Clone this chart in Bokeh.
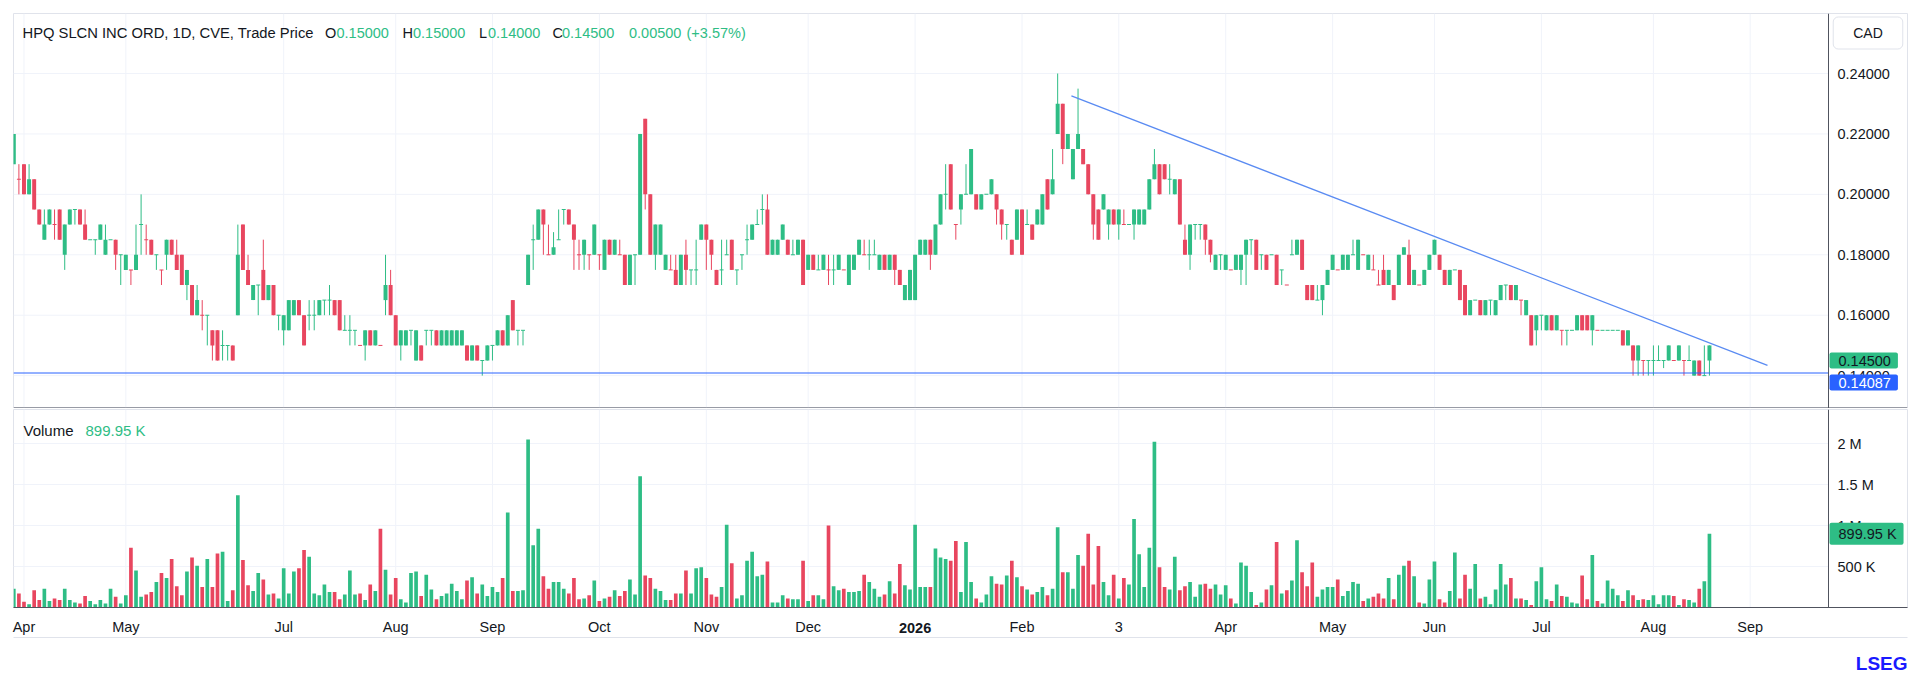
from bokeh.plotting import figure
from bokeh.models import (Range1d, FixedTicker, NumeralTickFormatter, Label, Span, ColumnDataSource,
                          LinearAxis, Title)
from bokeh.layouts import column
from bokeh.embed import file_html
from bokeh.resources import INLINE

# ---------------- data (daily bars, index 0 = first visible bar) ----------------
opens = [
    0.21, 0.205, 0.21, 0.20, 0.205, 0.195, 0.185, 0.19, 0.19, 0.195,
    0.18, 0.19, 0.195, 0.195, 0.19, 0.185, 0.185, 0.185, 0.18, 0.185,
    0.185, 0.18, 0.175, 0.175, 0.175, 0.19, 0.185, 0.185, 0.18, 0.175,
    0.18, 0.185, 0.18, 0.18, 0.17, 0.17, 0.16, 0.16, 0.16, 0.155,
    0.155, 0.15, 0.15, 0.15, 0.16, 0.19, 0.175, 0.165, 0.17, 0.175,
    0.165, 0.17, 0.16, 0.155, 0.155, 0.16, 0.165, 0.16, 0.16, 0.16,
    0.16, 0.165, 0.165, 0.165, 0.165, 0.155, 0.155, 0.155, 0.15, 0.15,
    0.155, 0.15, 0.15, 0.165, 0.17, 0.16, 0.15, 0.15, 0.155, 0.145,
    0.15, 0.155, 0.155, 0.155, 0.15, 0.15, 0.15, 0.15, 0.15, 0.15,
    0.145, 0.15, 0.145, 0.145, 0.15, 0.15, 0.155, 0.15, 0.165, 0.155,
    0.155, 0.17, 0.185, 0.185, 0.195, 0.18, 0.18, 0.185, 0.195, 0.195,
    0.19, 0.18, 0.18, 0.18, 0.18, 0.18, 0.175, 0.185, 0.18, 0.18,
    0.18, 0.17, 0.18, 0.18, 0.225, 0.20, 0.18, 0.18, 0.175, 0.175,
    0.175, 0.17, 0.18, 0.175, 0.175, 0.185, 0.19, 0.185, 0.175, 0.175,
    0.18, 0.185, 0.175, 0.18, 0.185, 0.185, 0.19, 0.195, 0.195, 0.18,
    0.18, 0.185, 0.185, 0.18, 0.18, 0.185, 0.175, 0.18, 0.175, 0.175,
    0.175, 0.175, 0.175, 0.175, 0.17, 0.175, 0.18, 0.18, 0.18, 0.18,
    0.175, 0.18, 0.175, 0.18, 0.175, 0.165, 0.165, 0.165, 0.18, 0.18,
    0.185, 0.18, 0.19, 0.20, 0.21, 0.19, 0.195, 0.20, 0.20, 0.20,
    0.195, 0.20, 0.20, 0.20, 0.195, 0.19, 0.185, 0.185, 0.195, 0.19,
    0.19, 0.19, 0.19, 0.205, 0.20, 0.22, 0.23, 0.215, 0.205, 0.215,
    0.215, 0.21, 0.20, 0.195, 0.195, 0.19, 0.195, 0.19, 0.19, 0.19,
    0.19, 0.19, 0.19, 0.195, 0.205, 0.21, 0.21, 0.205, 0.20, 0.205,
    0.185, 0.18, 0.19, 0.19, 0.19, 0.185, 0.175, 0.18, 0.175, 0.175,
    0.175, 0.175, 0.18, 0.185, 0.185, 0.18, 0.18, 0.18, 0.18, 0.175,
    0.17, 0.18, 0.18, 0.185, 0.17, 0.17, 0.165, 0.165, 0.17, 0.175,
    0.175, 0.175, 0.175, 0.18, 0.175, 0.18, 0.175, 0.175, 0.17, 0.175,
    0.17, 0.17, 0.17, 0.18, 0.18, 0.17, 0.17, 0.17, 0.175, 0.18,
    0.18, 0.175, 0.17, 0.175, 0.175, 0.17, 0.16, 0.165, 0.165, 0.16,
    0.165, 0.16, 0.165, 0.17, 0.17, 0.165, 0.165, 0.16, 0.16, 0.155,
    0.16, 0.155, 0.16, 0.155, 0.155, 0.155, 0.155, 0.155, 0.16, 0.16,
    0.155, 0.155, 0.155, 0.155, 0.155, 0.155, 0.155, 0.15, 0.15, 0.145,
    0.145, 0.145, 0.145, 0.145, 0.145, 0.145, 0.145, 0.145, 0.145, 0.145,
    0.14, 0.145, 0.14, 0.145,
]
highs = [
    0.22, 0.21, 0.21, 0.21, 0.205, 0.195, 0.195, 0.195, 0.195, 0.195,
    0.19, 0.195, 0.195, 0.195, 0.195, 0.185, 0.185, 0.19, 0.19, 0.185,
    0.185, 0.18, 0.18, 0.175, 0.19, 0.20, 0.19, 0.185, 0.18, 0.175,
    0.185, 0.185, 0.185, 0.18, 0.175, 0.17, 0.17, 0.165, 0.16, 0.155,
    0.155, 0.155, 0.15, 0.15, 0.19, 0.19, 0.18, 0.17, 0.17, 0.185,
    0.17, 0.17, 0.16, 0.16, 0.165, 0.165, 0.165, 0.16, 0.165, 0.165,
    0.165, 0.165, 0.17, 0.165, 0.165, 0.16, 0.16, 0.155, 0.15, 0.155,
    0.155, 0.155, 0.15, 0.18, 0.175, 0.16, 0.155, 0.155, 0.155, 0.155,
    0.15, 0.155, 0.155, 0.155, 0.155, 0.155, 0.155, 0.155, 0.155, 0.15,
    0.15, 0.15, 0.145, 0.15, 0.15, 0.155, 0.155, 0.16, 0.165, 0.155,
    0.155, 0.18, 0.19, 0.195, 0.195, 0.19, 0.1875, 0.195, 0.195, 0.195,
    0.19, 0.185, 0.185, 0.18, 0.19, 0.18, 0.185, 0.185, 0.185, 0.185,
    0.18, 0.18, 0.18, 0.22, 0.225, 0.20, 0.19, 0.19, 0.18, 0.18,
    0.18, 0.18, 0.185, 0.175, 0.185, 0.19, 0.19, 0.185, 0.175, 0.185,
    0.185, 0.185, 0.175, 0.18, 0.19, 0.19, 0.195, 0.20, 0.20, 0.185,
    0.185, 0.19, 0.185, 0.185, 0.185, 0.185, 0.18, 0.18, 0.18, 0.18,
    0.18, 0.18, 0.18, 0.175, 0.18, 0.18, 0.185, 0.185, 0.185, 0.185,
    0.18, 0.18, 0.18, 0.18, 0.175, 0.17, 0.175, 0.18, 0.185, 0.185,
    0.185, 0.19, 0.20, 0.21, 0.21, 0.19, 0.20, 0.21, 0.215, 0.20,
    0.20, 0.20, 0.205, 0.20, 0.195, 0.19, 0.185, 0.195, 0.195, 0.195,
    0.19, 0.195, 0.20, 0.205, 0.215, 0.24, 0.23, 0.22, 0.215, 0.235,
    0.215, 0.21, 0.20, 0.195, 0.20, 0.195, 0.195, 0.195, 0.195, 0.19,
    0.195, 0.195, 0.195, 0.205, 0.215, 0.21, 0.21, 0.21, 0.205, 0.205,
    0.19, 0.19, 0.19, 0.19, 0.19, 0.185, 0.18, 0.18, 0.18, 0.175,
    0.18, 0.18, 0.185, 0.185, 0.185, 0.18, 0.18, 0.18, 0.18, 0.175,
    0.17, 0.185, 0.185, 0.185, 0.17, 0.17, 0.17, 0.17, 0.175, 0.18,
    0.175, 0.18, 0.18, 0.185, 0.185, 0.18, 0.18, 0.18, 0.175, 0.18,
    0.175, 0.17, 0.18, 0.1825, 0.185, 0.175, 0.17, 0.175, 0.18, 0.185,
    0.18, 0.175, 0.175, 0.175, 0.175, 0.17, 0.165, 0.165, 0.165, 0.165,
    0.165, 0.165, 0.17, 0.17, 0.17, 0.17, 0.165, 0.165, 0.16, 0.16,
    0.16, 0.16, 0.16, 0.16, 0.155, 0.155, 0.155, 0.16, 0.16, 0.16,
    0.16, 0.155, 0.155, 0.155, 0.155, 0.155, 0.155, 0.155, 0.15, 0.15,
    0.145, 0.145, 0.15, 0.15, 0.145, 0.15, 0.145, 0.15, 0.145, 0.15,
    0.145, 0.145, 0.15, 0.15,
]
lows = [
    0.21, 0.20, 0.20, 0.20, 0.195, 0.19, 0.185, 0.19, 0.185, 0.185,
    0.175, 0.19, 0.19, 0.19, 0.185, 0.185, 0.18, 0.185, 0.18, 0.185,
    0.175, 0.17, 0.175, 0.17, 0.175, 0.18, 0.18, 0.18, 0.175, 0.17,
    0.175, 0.18, 0.175, 0.17, 0.165, 0.16, 0.16, 0.155, 0.15, 0.145,
    0.145, 0.145, 0.145, 0.145, 0.16, 0.175, 0.17, 0.165, 0.16, 0.165,
    0.165, 0.16, 0.155, 0.15, 0.155, 0.16, 0.16, 0.15, 0.155, 0.155,
    0.16, 0.16, 0.16, 0.16, 0.155, 0.155, 0.15, 0.15, 0.15, 0.145,
    0.15, 0.15, 0.15, 0.16, 0.16, 0.15, 0.145, 0.15, 0.15, 0.145,
    0.145, 0.15, 0.15, 0.15, 0.15, 0.15, 0.15, 0.15, 0.15, 0.145,
    0.145, 0.145, 0.14, 0.145, 0.145, 0.15, 0.15, 0.15, 0.155, 0.15,
    0.15, 0.17, 0.175, 0.185, 0.18, 0.18, 0.18, 0.185, 0.19, 0.19,
    0.175, 0.175, 0.175, 0.175, 0.18, 0.175, 0.175, 0.18, 0.18, 0.18,
    0.17, 0.17, 0.17, 0.18, 0.195, 0.18, 0.175, 0.18, 0.175, 0.175,
    0.17, 0.17, 0.17, 0.17, 0.17, 0.185, 0.175, 0.175, 0.17, 0.17,
    0.18, 0.175, 0.17, 0.175, 0.18, 0.185, 0.19, 0.19, 0.18, 0.18,
    0.18, 0.185, 0.18, 0.18, 0.18, 0.17, 0.175, 0.175, 0.175, 0.175,
    0.17, 0.17, 0.175, 0.175, 0.17, 0.175, 0.18, 0.18, 0.175, 0.18,
    0.175, 0.175, 0.175, 0.17, 0.17, 0.165, 0.165, 0.165, 0.18, 0.18,
    0.175, 0.18, 0.19, 0.195, 0.195, 0.185, 0.19, 0.20, 0.20, 0.195,
    0.195, 0.20, 0.20, 0.19, 0.185, 0.185, 0.18, 0.185, 0.18, 0.19,
    0.185, 0.19, 0.19, 0.195, 0.20, 0.22, 0.21, 0.215, 0.205, 0.215,
    0.21, 0.20, 0.185, 0.185, 0.195, 0.185, 0.19, 0.185, 0.19, 0.19,
    0.185, 0.19, 0.19, 0.195, 0.205, 0.20, 0.205, 0.20, 0.20, 0.19,
    0.18, 0.175, 0.185, 0.185, 0.18, 0.1775, 0.175, 0.175, 0.175, 0.175,
    0.175, 0.17, 0.17, 0.18, 0.175, 0.175, 0.175, 0.18, 0.17, 0.17,
    0.17, 0.18, 0.18, 0.175, 0.165, 0.165, 0.165, 0.16, 0.17, 0.175,
    0.175, 0.175, 0.175, 0.18, 0.175, 0.18, 0.175, 0.175, 0.17, 0.17,
    0.17, 0.165, 0.17, 0.18, 0.17, 0.17, 0.17, 0.17, 0.175, 0.18,
    0.175, 0.17, 0.17, 0.175, 0.165, 0.16, 0.16, 0.165, 0.16, 0.16,
    0.16, 0.16, 0.165, 0.165, 0.165, 0.165, 0.16, 0.16, 0.15, 0.15,
    0.155, 0.155, 0.155, 0.155, 0.15, 0.15, 0.155, 0.155, 0.155, 0.155,
    0.15, 0.155, 0.155, 0.155, 0.155, 0.155, 0.15, 0.15, 0.14, 0.14,
    0.14, 0.14, 0.14, 0.145, 0.1425, 0.145, 0.145, 0.145, 0.14, 0.145,
    0.14, 0.14, 0.14, 0.14,
]
closes = [
    0.22, 0.205, 0.20, 0.205, 0.195, 0.19, 0.19, 0.195, 0.19, 0.185,
    0.19, 0.195, 0.195, 0.19, 0.185, 0.185, 0.185, 0.19, 0.185, 0.185,
    0.18, 0.18, 0.18, 0.175, 0.18, 0.19, 0.185, 0.18, 0.18, 0.175,
    0.185, 0.18, 0.175, 0.17, 0.175, 0.16, 0.165, 0.16, 0.16, 0.15,
    0.145, 0.15, 0.15, 0.145, 0.18, 0.175, 0.17, 0.17, 0.17, 0.165,
    0.17, 0.16, 0.16, 0.16, 0.165, 0.165, 0.16, 0.15, 0.16, 0.16,
    0.165, 0.165, 0.165, 0.16, 0.155, 0.155, 0.155, 0.155, 0.15, 0.155,
    0.15, 0.155, 0.15, 0.17, 0.16, 0.15, 0.155, 0.155, 0.155, 0.155,
    0.145, 0.155, 0.155, 0.15, 0.155, 0.155, 0.155, 0.155, 0.155, 0.145,
    0.15, 0.145, 0.145, 0.15, 0.15, 0.155, 0.15, 0.16, 0.155, 0.155,
    0.155, 0.18, 0.185, 0.195, 0.19, 0.18, 0.1825, 0.185, 0.195, 0.19,
    0.185, 0.18, 0.185, 0.18, 0.19, 0.18, 0.185, 0.18, 0.185, 0.18,
    0.17, 0.18, 0.18, 0.22, 0.20, 0.18, 0.19, 0.19, 0.18, 0.175,
    0.17, 0.18, 0.175, 0.175, 0.175, 0.19, 0.185, 0.18, 0.17, 0.175,
    0.18, 0.175, 0.175, 0.18, 0.185, 0.19, 0.19, 0.195, 0.18, 0.185,
    0.185, 0.19, 0.18, 0.18, 0.185, 0.17, 0.18, 0.175, 0.175, 0.18,
    0.175, 0.175, 0.18, 0.175, 0.18, 0.18, 0.185, 0.18, 0.18, 0.18,
    0.18, 0.175, 0.18, 0.175, 0.17, 0.17, 0.175, 0.18, 0.185, 0.185,
    0.18, 0.19, 0.20, 0.20, 0.195, 0.19, 0.20, 0.20, 0.215, 0.195,
    0.20, 0.20, 0.205, 0.195, 0.19, 0.19, 0.18, 0.195, 0.18, 0.19,
    0.185, 0.195, 0.20, 0.195, 0.205, 0.23, 0.215, 0.22, 0.215, 0.22,
    0.21, 0.20, 0.19, 0.185, 0.20, 0.195, 0.19, 0.195, 0.19, 0.19,
    0.195, 0.195, 0.195, 0.205, 0.21, 0.20, 0.205, 0.205, 0.205, 0.19,
    0.18, 0.19, 0.19, 0.19, 0.185, 0.18, 0.18, 0.18, 0.18, 0.175,
    0.18, 0.18, 0.185, 0.185, 0.175, 0.18, 0.175, 0.18, 0.17, 0.175,
    0.17, 0.18, 0.185, 0.175, 0.165, 0.165, 0.165, 0.17, 0.175, 0.18,
    0.175, 0.18, 0.18, 0.18, 0.185, 0.18, 0.18, 0.175, 0.17, 0.17,
    0.175, 0.165, 0.18, 0.1825, 0.17, 0.175, 0.17, 0.175, 0.18, 0.185,
    0.175, 0.17, 0.175, 0.175, 0.165, 0.16, 0.165, 0.165, 0.16, 0.165,
    0.165, 0.165, 0.17, 0.17, 0.165, 0.17, 0.165, 0.165, 0.15, 0.16,
    0.16, 0.16, 0.155, 0.16, 0.155, 0.155, 0.155, 0.16, 0.155, 0.155,
    0.16, 0.155, 0.155, 0.155, 0.155, 0.155, 0.15, 0.155, 0.145, 0.15,
    0.145, 0.145, 0.145, 0.145, 0.145, 0.15, 0.145, 0.15, 0.145, 0.145,
    0.145, 0.14, 0.14, 0.15,
]
volumes_k = [
    230, 170, 70, 40, 210, 90, 230, 80, 110, 90,
    230, 90, 60, 50, 140, 80, 40, 90, 50, 230,
    130, 50, 150, 730, 450, 130, 160, 190, 310, 420,
    360, 590, 260, 150, 440, 610, 510, 250, 590, 250,
    660, 680, 80, 210, 1370, 580, 270, 200, 420, 340,
    160, 170, 110, 480, 170, 440, 480, 700, 620, 170,
    150, 280, 190, 190, 100, 160, 450, 160, 170, 90,
    280, 200, 960, 460, 160, 360, 100, 60, 420, 440,
    140, 400, 220, 100, 140, 170, 290, 200, 100, 330,
    370, 170, 280, 140, 250, 190, 360, 1160, 200, 200,
    210, 2050, 760, 960, 380, 230, 310, 310, 230, 170,
    360, 100, 110, 150, 330, 80, 110, 130, 210, 140,
    200, 340, 160, 1600, 390, 360, 230, 200, 90, 90,
    170, 170, 450, 170, 480, 490, 360, 160, 130, 250,
    1010, 540, 110, 150, 570, 680, 380, 400, 560, 60,
    60, 150, 110, 100, 100, 570, 80, 150, 150, 100,
    1000, 260, 210, 230, 190, 190, 200, 400, 310, 230,
    130, 160, 320, 170, 530, 270, 220, 1010, 250, 250,
    250, 720, 610, 590, 570, 810, 190, 800, 310, 110,
    60, 160, 380, 290, 280, 390, 570, 370, 260, 220,
    160, 190, 250, 150, 230, 980, 430, 430, 230, 640,
    510, 900, 280, 750, 310, 150, 400, 110, 360, 280,
    1080, 650, 250, 730, 2020, 490, 250, 220, 620, 210,
    260, 310, 130, 280, 290, 230, 280, 160, 270, 110,
    50, 550, 510, 190, 30, 60, 220, 270, 800, 170,
    210, 330, 820, 430, 260, 550, 130, 220, 250, 250,
    340, 140, 200, 310, 290, 80, 110, 130, 170, 110,
    360, 100, 400, 510, 570, 380, 60, 50, 340, 560,
    100, 60, 200, 670, 110, 400, 230, 530, 110, 130,
    40, 220, 530, 280, 360, 110, 110, 90, 30, 320,
    490, 100, 80, 280, 140, 130, 60, 50, 390, 100,
    640, 80, 50, 330, 230, 150, 80, 210, 150, 90,
    100, 90, 150, 40, 150, 150, 140, 30, 100, 90,
    60, 230, 320, 899.95,
]

month_ticks = [2, 22, 53, 75, 94, 115, 136, 156, 177, 198, 217, 238, 259, 279, 300, 322, 341]
month_labels = ["Apr", "May", "Jul", "Aug", "Sep", "Oct", "Nov", "Dec", "2026", "Feb",
                "3", "Apr", "May", "Jun", "Jul", "Aug", "Sep"]
year_tick = 177
price_ticks = [0.14, 0.16, 0.18, 0.20, 0.22, 0.24]
volume_ticks = [500000, 1000000, 1500000, 2000000]
volume_tick_labels = ["500 K", "1 M", "1.5 M", "2 M"]

trend_x = [207.7, 344.4]
trend_y = [0.2326, 0.1434]
support_level = 0.14087
last_close = 0.145
last_volume = 899950

header_title = "HPQ SLCN INC ORD, 1D, CVE, Trade Price"
header_parts = [("O", "0.15000"), ("H", "0.15000"), ("L", "0.14000"), ("C", "0.14500")]
header_change = "0.00500"
header_pct = "(+3.57%)"

# ---------------- styling / layout ----------------
UP = "#2ebd85"
DOWN = "#e8465f"
TEXT = "#131722"
AXIS = "#50535e"
GRID = "#f0f3fa"
BORDER = "#e0e3eb"
BLUE = "#2962ff"
FONT = "Liberation Sans"

FRAME_L, FRAME_R = 13, 1907      # plot frames span the price scale column too
SCALE_X = 1828                   # pixel column of the price scale separator
PX_PER_BAR = 5.092
X0 = -0.06
X1 = X0 + (FRAME_R - FRAME_L) / PX_PER_BAR
P_TOP, P_BOT = 0.25987, 0.12912
P_FT, P_FH = 13, 395
V_FT, V_FH = 409, 198
V_TOP = V_FH / 82.0 * 1e6


def px2x(px):
    return X0 + (px - FRAME_L) / PX_PER_BAR


def py2p(py):
    return P_TOP - (py - P_FT) * (P_TOP - P_BOT) / P_FH


def py2v(py):
    return (V_FT + V_FH - py) * V_TOP / V_FH


XS = px2x(SCALE_X)

n = len(closes)
xs = list(range(n))
colors = []
for i in range(n):
    if closes[i] > opens[i]:
        up = True
    elif closes[i] < opens[i]:
        up = False
    else:
        up = i == 0 or closes[i] >= closes[i - 1]
    colors.append(UP if up else DOWN)

one_px = (P_TOP - P_BOT) / P_FH
btop, bbot = [], []
for o, c in zip(opens, closes):
    hi, lo = max(o, c), min(o, c)
    if hi - lo < one_px:
        mid = (hi + lo) / 2
        hi, lo = mid + one_px / 2, mid - one_px / 2
    btop.append(hi)
    bbot.append(lo)

src = ColumnDataSource(dict(x=xs, open=opens, high=highs, low=lows, close=closes,
                            btop=btop, bbot=bbot, color=colors,
                            vol=[v * 1000 for v in volumes_k]))

x_range = Range1d(X0, X1)


def style_scale(ax, ticks, standoff):
    ax.ticker = FixedTicker(ticks=ticks)
    ax.axis_line_color = None
    ax.major_tick_line_color = None
    ax.minor_tick_line_color = None
    ax.major_tick_out = 0
    ax.major_tick_in = 0
    ax.minor_tick_out = 0
    ax.major_label_standoff = standoff
    ax.major_label_text_font = FONT
    ax.major_label_text_font_size = "14.5px"
    ax.major_label_text_color = TEXT


def tag(fig, y, text, bg, fg):
    fig.add_layout(Label(x=px2x(1829), y=y, text=text, text_font=FONT, text_font_size="14.5px",
                         text_color=fg, text_baseline="middle", text_align="left",
                         background_fill_color=bg, border_radius=2,
                         padding=dict(left=9, right=7, top=3, bottom=3)))


# ---------------- price pane ----------------
p1 = figure(frame_width=FRAME_R - FRAME_L, frame_height=P_FH, x_range=x_range,
            y_range=Range1d(P_BOT, P_TOP), output_backend="svg", toolbar_location=None,
            x_axis_location=None, y_axis_location="right", min_border_left=13,
            min_border_top=13, min_border_right=5, min_border_bottom=0)
p1.outline_line_color = BORDER
p1.background_fill_color = "white"
p1.border_fill_color = "white"
p1.xgrid.visible = False
p1.ygrid.visible = False
ya = p1.yaxis[0]
style_scale(ya, price_ticks, -(FRAME_R - 1837))
ya.formatter = NumeralTickFormatter(format="0.00000")

# grid lines limited to the chart area
p1.segment(x0=[X0] * len(price_ticks), y0=price_ticks, x1=[XS] * len(price_ticks), y1=price_ticks,
           line_color=GRID, line_width=1)
p1.segment(x0=month_ticks, y0=[P_BOT] * len(month_ticks), x1=month_ticks, y1=[P_TOP] * len(month_ticks),
           line_color=GRID, line_width=1)

p1.segment(x0="x", y0="low", x1="x", y1="high", line_color="color", line_width=1, source=src)
p1.vbar(x="x", width=0.78, top="btop", bottom="bbot", fill_color="color", line_color=None, source=src)
p1.line(trend_x, trend_y, line_color="#5a8bf2", line_width=1.3)
p1.segment(x0=[X0], y0=[support_level], x1=[XS], y1=[support_level], line_color=BLUE, line_width=1)
p1.add_layout(Span(location=XS, dimension="height", line_color=AXIS, line_width=1))
p1.add_layout(Span(location=P_BOT + 0.5 * one_px, dimension="width", line_color=AXIS, line_width=1))

# header
hy = py2p(32)
p1.add_layout(Label(x=px2x(22), y=hy, text=header_title, text_font=FONT, text_font_size="14.75px",
                    text_color=TEXT, text_baseline="middle"))
hx = [(324.5, 336), (402, 412.5), (478.5, 487.5), (552, 561.5)]
for (lab, val), (lx, vx) in zip(header_parts, hx):
    p1.add_layout(Label(x=px2x(lx), y=hy, text=lab, text_font=FONT, text_font_size="14.5px",
                        text_color=TEXT, text_baseline="middle"))
    p1.add_layout(Label(x=px2x(vx), y=hy, text=val, text_font=FONT, text_font_size="14.5px",
                        text_color=UP, text_baseline="middle"))
p1.add_layout(Label(x=px2x(628.5), y=hy, text=header_change, text_font=FONT, text_font_size="14.5px",
                    text_color=UP, text_baseline="middle"))
p1.add_layout(Label(x=px2x(686), y=hy, text=header_pct, text_font=FONT, text_font_size="14.5px",
                    text_color=UP, text_baseline="middle"))

# currency box and price tags on the scale
p1.add_layout(Label(x=px2x(1867.5), y=py2p(32.5), text="CAD", text_font=FONT, text_font_size="14px",
                    text_color=TEXT, text_baseline="middle", text_align="center",
                    background_fill_color="white", border_line_color=BORDER, border_radius=5,
                    padding=dict(left=20, right=20, top=8, bottom=8)))
tag(p1, last_close, "0.14500", UP, TEXT)
tag(p1, py2p(382), "0.14087", BLUE, "white")

# ---------------- volume pane ----------------
p2 = figure(frame_width=FRAME_R - FRAME_L, frame_height=V_FH, x_range=x_range,
            y_range=Range1d(0, V_TOP), output_backend="svg", toolbar_location=None,
            x_axis_location="below", y_axis_location="right", min_border_left=13,
            min_border_top=1, min_border_right=5, min_border_bottom=0)
p2.outline_line_color = BORDER
p2.background_fill_color = "white"
p2.border_fill_color = "white"
p2.xgrid.visible = False
p2.ygrid.visible = False


def plain_axis(ax, ticks, standoff, line_color=None):
    ax.ticker = FixedTicker(ticks=ticks)
    ax.axis_line_color = line_color
    ax.major_tick_line_color = None
    ax.minor_tick_line_color = None
    ax.major_tick_out = 0
    ax.major_tick_in = 0
    ax.minor_tick_out = 0
    ax.major_label_standoff = standoff
    ax.major_label_text_font = FONT
    ax.major_label_text_font_size = "14.5px"
    ax.major_label_text_color = TEXT


xa = p2.xaxis[0]
plain_axis(xa, month_ticks, 11, AXIS)
xa.major_label_overrides = {t: ("" if t == year_tick else lab) for t, lab in zip(month_ticks, month_labels)}

year_axis = LinearAxis()
plain_axis(year_axis, [year_tick], -15)
year_axis.major_label_overrides = {year_tick: "2026"}
year_axis.major_label_text_font_style = "bold"
p2.add_layout(year_axis, "below")

# bottom edge of the chart widget
edge_axis = LinearAxis()
plain_axis(edge_axis, [], 0, BORDER)
p2.add_layout(edge_axis, "below")

va = p2.yaxis[0]
style_scale(va, volume_ticks, -(FRAME_R - 1837))
va.major_label_overrides = {t: lab for t, lab in zip(volume_ticks, volume_tick_labels)}

p2.segment(x0=[X0] * len(volume_ticks), y0=volume_ticks, x1=[XS] * len(volume_ticks), y1=volume_ticks,
           line_color=GRID, line_width=1)
p2.segment(x0=month_ticks, y0=[0] * len(month_ticks), x1=month_ticks, y1=[V_TOP] * len(month_ticks),
           line_color=GRID, line_width=1)
p2.vbar(x="x", width=0.72, top="vol", bottom=0, fill_color="color", line_color=None, source=src)
p2.add_layout(Span(location=XS, dimension="height", line_color=AXIS, line_width=1))

p2.add_layout(Label(x=px2x(23), y=py2v(430), text="Volume", text_font=FONT, text_font_size="15px",
                    text_color=TEXT, text_baseline="middle"))
p2.add_layout(Label(x=px2x(85), y=py2v(430), text="899.95 K", text_font=FONT, text_font_size="15px",
                    text_color=UP, text_baseline="middle"))
tag(p2, last_volume, "899.95 K", UP, TEXT)

logo = Title(text="LSEG", align="right", text_font=FONT, text_font_size="19px",
             text_font_style="bold", text_color="#1a1aff", standoff=26)
p2.add_layout(logo, "below")

layout = column(p1, p2)
open("out.html", "w").write(file_html(layout, INLINE))
